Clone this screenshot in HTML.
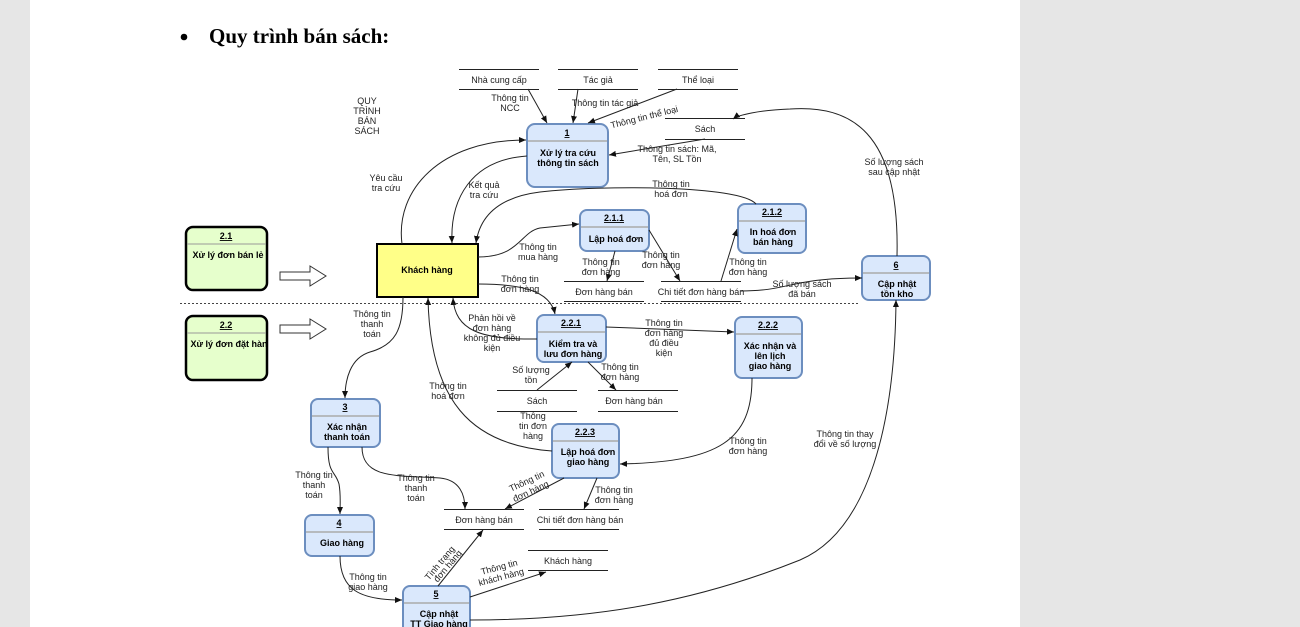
<!DOCTYPE html>
<html><head><meta charset="utf-8"><style>
html,body{margin:0;padding:0;background:#e6e6e6;width:1300px;height:627px;overflow:hidden}
svg{display:block}
text{font-family:"Liberation Sans","DejaVu Sans",sans-serif;font-size:9px;fill:#222}
.b{font-weight:bold;fill:#000}
.e{stroke:#222;stroke-width:1;fill:none;marker-end:url(#a)}
.n{stroke:#222;stroke-width:1;fill:none}
.p{fill:#dae8fc;stroke:#6c8ebf;stroke-width:2}
.s{stroke:#222;stroke-width:1}
</style></head><body>
<svg width="1300" height="627" viewBox="0 0 1300 627">
<defs><marker id="a" markerWidth="8" markerHeight="8" refX="7" refY="4" orient="auto" markerUnits="userSpaceOnUse"><path d="M0,1 L7,4 L0,7 Z" fill="#111"/></marker></defs>
<rect x="30" y="0" width="990" height="627" fill="#fff"/>
<circle cx="184" cy="37" r="3.3" fill="#000"/>
<text x="209" y="43" style="font-family:'Liberation Serif',serif;font-size:21px;font-weight:bold;fill:#000">Quy trình bán sách:</text>

<g text-anchor="middle">
<text x="367" y="104">QUY</text><text x="367" y="114">TRÌNH</text><text x="367" y="124">BÁN</text><text x="367" y="134">SÁCH</text>
</g>

<!-- data stores -->
<g>
<line class="s" x1="459" y1="69.5" x2="539" y2="69.5"/><line class="s" x1="459" y1="89.5" x2="539" y2="89.5"/>
<line class="s" x1="558" y1="69.5" x2="638" y2="69.5"/><line class="s" x1="558" y1="89.5" x2="638" y2="89.5"/>
<line class="s" x1="658" y1="69.5" x2="738" y2="69.5"/><line class="s" x1="658" y1="89.5" x2="738" y2="89.5"/>
<line class="s" x1="665" y1="118.5" x2="745" y2="118.5"/><line class="s" x1="665" y1="139.5" x2="745" y2="139.5"/>
<line class="s" x1="564" y1="281.5" x2="644" y2="281.5"/><line class="s" x1="564" y1="301.5" x2="644" y2="301.5"/>
<line class="s" x1="661" y1="281.5" x2="741" y2="281.5"/><line class="s" x1="661" y1="301.5" x2="741" y2="301.5"/>
<line class="s" x1="497" y1="390.5" x2="577" y2="390.5"/><line class="s" x1="497" y1="411.5" x2="577" y2="411.5"/>
<line class="s" x1="598" y1="390.5" x2="678" y2="390.5"/><line class="s" x1="598" y1="411.5" x2="678" y2="411.5"/>
<line class="s" x1="444" y1="509.5" x2="524" y2="509.5"/><line class="s" x1="444" y1="529.5" x2="524" y2="529.5"/>
<line class="s" x1="539" y1="509.5" x2="619" y2="509.5"/><line class="s" x1="539" y1="529.5" x2="619" y2="529.5"/>
<line class="s" x1="528" y1="550.5" x2="608" y2="550.5"/><line class="s" x1="528" y1="570.5" x2="608" y2="570.5"/>
</g>
<g text-anchor="middle">
<text x="499" y="83">Nhà cung cấp</text><text x="598" y="83">Tác giả</text><text x="698" y="83">Thể loại</text>
<text x="705" y="132">Sách</text>
<text x="604" y="295">Đơn hàng bán</text><text x="701" y="295">Chi tiết đơn hàng bán</text>
<text x="537" y="404">Sách</text><text x="634" y="404">Đơn hàng bán</text>
<text x="484" y="523">Đơn hàng bán</text><text x="580" y="523">Chi tiết đơn hàng bán</text>
<text x="568" y="564">Khách hàng</text>
</g>

<!-- dotted divider -->
<line x1="180" y1="303.5" x2="860" y2="303.5" stroke="#444" stroke-width="1" stroke-dasharray="2,2"/>

<!-- green boxes -->
<rect x="186" y="227" width="81" height="63" rx="7" fill="#e6ffcc" stroke="#000" stroke-width="2.5"/>
<line x1="187" y1="244" x2="266" y2="244" stroke="#999"/>
<rect x="186" y="316" width="81" height="64" rx="7" fill="#e6ffcc" stroke="#000" stroke-width="2.5"/>
<line x1="187" y1="333" x2="266" y2="333" stroke="#999"/>
<text x="226" y="239" text-anchor="middle" class="b" text-decoration="underline">2.1</text>
<text x="228" y="258" text-anchor="middle" class="b">Xử lý đơn bán lẻ</text>
<text x="226" y="328" text-anchor="middle" class="b" text-decoration="underline">2.2</text>
<text x="229" y="347" text-anchor="middle" class="b">Xử lý đơn đặt hàn</text>
<path d="M280,272 H310 V266 L326,276 L310,286 V280 H280 Z" fill="#fff" stroke="#333"/>
<path d="M280,325 H310 V319 L326,329 L310,339 V333 H280 Z" fill="#fff" stroke="#333"/>

<!-- Khach hang -->
<rect x="377" y="244" width="101" height="53" fill="#ffff88" stroke="#000" stroke-width="2"/>
<text x="427" y="273" text-anchor="middle" class="b">Khách hàng</text>

<!-- processes -->
<g>
<rect class="p" x="527" y="124" width="81" height="63" rx="8"/><line x1="528" y1="141" x2="607" y2="141" stroke="#aaa" stroke-width="1.5"/>
<rect class="p" x="580" y="210" width="69" height="41" rx="7"/><line x1="581" y1="227" x2="648" y2="227" stroke="#aaa" stroke-width="1.5"/>
<rect class="p" x="738" y="204" width="68" height="49" rx="7"/><line x1="739" y1="221" x2="805" y2="221" stroke="#aaa" stroke-width="1.5"/>
<rect class="p" x="862" y="256" width="68" height="44" rx="7"/><line x1="863" y1="273" x2="929" y2="273" stroke="#aaa" stroke-width="1.5"/>
<rect class="p" x="537" y="315" width="69" height="47" rx="7"/><line x1="538" y1="332" x2="605" y2="332" stroke="#aaa" stroke-width="1.5"/>
<rect class="p" x="735" y="317" width="67" height="61" rx="7"/><line x1="736" y1="334" x2="801" y2="334" stroke="#aaa" stroke-width="1.5"/>
<rect class="p" x="311" y="399" width="69" height="48" rx="7"/><line x1="312" y1="416" x2="379" y2="416" stroke="#aaa" stroke-width="1.5"/>
<rect class="p" x="552" y="424" width="67" height="54" rx="7"/><line x1="553" y1="441" x2="618" y2="441" stroke="#aaa" stroke-width="1.5"/>
<rect class="p" x="305" y="515" width="69" height="41" rx="7"/><line x1="306" y1="532" x2="373" y2="532" stroke="#aaa" stroke-width="1.5"/>
<rect class="p" x="403" y="586" width="67" height="50" rx="7"/><line x1="404" y1="603" x2="469" y2="603" stroke="#aaa" stroke-width="1.5"/>
</g>
<g text-anchor="middle" class="b">
<text class="b" x="567" y="136" text-decoration="underline">1</text>
<text class="b" x="568" y="156">Xử lý tra cứu</text><text class="b" x="568" y="166">thông tin sách</text>
<text class="b" x="614" y="221" text-decoration="underline">2.1.1</text><text class="b" x="616" y="242">Lập hoá đơn</text>
<text class="b" x="772" y="215" text-decoration="underline">2.1.2</text><text class="b" x="773" y="235">In hoá đơn</text><text class="b" x="773" y="245">bán hàng</text>
<text class="b" x="896" y="268" text-decoration="underline">6</text><text class="b" x="897" y="287">Cập nhật</text><text class="b" x="897" y="297">tồn kho</text>
<text class="b" x="571" y="326" text-decoration="underline">2.2.1</text><text class="b" x="573" y="347">Kiểm tra và</text><text class="b" x="573" y="357">lưu đơn hàng</text>
<text class="b" x="768" y="328" text-decoration="underline">2.2.2</text><text class="b" x="770" y="349">Xác nhận và</text><text class="b" x="770" y="359">lên lịch</text><text class="b" x="770" y="369">giao hàng</text>
<text class="b" x="345" y="410" text-decoration="underline">3</text><text class="b" x="347" y="430">Xác nhận</text><text class="b" x="347" y="440">thanh toán</text>
<text class="b" x="585" y="435" text-decoration="underline">2.2.3</text><text class="b" x="588" y="455">Lập hoá đơn</text><text class="b" x="588" y="465">giao hàng</text>
<text class="b" x="339" y="526" text-decoration="underline">4</text><text class="b" x="342" y="546">Giao hàng</text>
<text class="b" x="436" y="597" text-decoration="underline">5</text><text class="b" x="439" y="617">Cập nhật</text><text class="b" x="439" y="627">TT Giao hàng</text>
</g>

<!-- edges -->
<path class="e" d="M528,89 L547,123"/>
<path class="e" d="M578,89 L573,123"/>
<path class="e" d="M677,89 L588,123"/>
<path class="e" d="M705,139 L609,155"/>
<path class="e" d="M402,244 C395,190 440,140 526,140"/>
<path class="e" d="M527,156 C470,160 450,200 452,243"/>
<path class="e" d="M756,204 C740,185 600,185 540,192 C500,197 480,215 476,243"/>
<path class="e" d="M478,257 C520,257 520,232 540,228 L579,224"/>
<path class="e" d="M615,251 L607,281"/>
<path class="e" d="M649,230 L680,281"/>
<path class="e" d="M721,281 L737,229"/>
<path class="e" d="M741,291 C790,291 790,278 862,278"/>
<path class="e" d="M897,256 C900,130 850,105 790,109 C760,110 738,115 733,119"/>
<path class="e" d="M478,284 C520,284 550,290 555,314"/>
<path class="e" d="M537,339 C480,340 455,330 453,298"/>
<path class="e" d="M403,297 C403,330 395,345 370,352 C350,358 345,380 345,398"/>
<path class="e" d="M606,327 L734,332"/>
<path class="e" d="M537,390 L572,362"/>
<path class="e" d="M588,362 L616,390"/>
<path class="e" d="M552,451 C470,445 430,400 428,298"/>
<path class="e" d="M752,378 C752,440 720,462 620,464"/>
<path class="e" d="M564,478 L505,509"/>
<path class="e" d="M597,478 L584,509"/>
<path class="e" d="M362,447 C362,480 400,475 440,478 C460,480 465,495 465,509"/>
<path class="e" d="M328,447 C328,475 335,470 339,484 C341,495 340,505 340,514"/>
<path class="e" d="M340,556 C340,590 360,600 402,600"/>
<path class="e" d="M438,586 L483,530"/>
<path class="e" d="M470,597 L546,572"/>
<path class="e" d="M470,620 C600,620 700,600 800,560 C870,530 895,420 896,300"/>

<!-- edge labels -->
<g text-anchor="middle">
<text x="510" y="101">Thông tin</text><text x="510" y="111">NCC</text>
<text x="605" y="106">Thông tin tác giả</text>
<text x="645" y="120" transform="rotate(-14 645 120)">Thông tin thể loại</text>
<text x="677" y="152">Thông tin sách: Mã,</text><text x="677" y="162">Tên, SL Tồn</text>
<text x="386" y="181">Yêu cầu</text><text x="386" y="191">tra cứu</text>
<text x="484" y="188">Kết quả</text><text x="484" y="198">tra cứu</text>
<text x="671" y="187">Thông tin</text><text x="671" y="197">hoá đơn</text>
<text x="538" y="250">Thông tin</text><text x="538" y="260">mua hàng</text>
<text x="601" y="265">Thông tin</text><text x="601" y="275">đơn hàng</text>
<text x="661" y="258">Thông tin</text><text x="661" y="268">đơn hàng</text>
<text x="748" y="265">Thông tin</text><text x="748" y="275">đơn hàng</text>
<text x="802" y="287">Số lượng sách</text><text x="802" y="297">đã bán</text>
<text x="894" y="165">Số lượng sách</text><text x="894" y="175">sau cập nhật</text>
<text x="520" y="282">Thông tin</text><text x="520" y="292">đơn hàng</text>
<text x="372" y="317">Thông tin</text><text x="372" y="327">thanh</text><text x="372" y="337">toán</text>
<text x="492" y="321">Phản hồi về</text><text x="492" y="331">đơn hàng</text><text x="492" y="341">không đủ điều</text><text x="492" y="351">kiện</text>
<text x="664" y="326">Thông tin</text><text x="664" y="336">đơn hàng</text><text x="664" y="346">đủ điều</text><text x="664" y="356">kiện</text>
<text x="531" y="373">Số lượng</text><text x="531" y="383">tồn</text>
<text x="620" y="370">Thông tin</text><text x="620" y="380">đơn hàng</text>
<text x="448" y="389">Thông tin</text><text x="448" y="399">hoá đơn</text>
<text x="533" y="419">Thông</text><text x="533" y="429">tin đơn</text><text x="533" y="439">hàng</text>
<text x="748" y="444">Thông tin</text><text x="748" y="454">đơn hàng</text>
<text x="845" y="437">Thông tin thay</text><text x="845" y="447">đổi về số lượng</text>
<text x="314" y="478">Thông tin</text><text x="314" y="488">thanh</text><text x="314" y="498">toán</text>
<text x="416" y="481">Thông tin</text><text x="416" y="491">thanh</text><text x="416" y="501">toán</text>
<text x="528" y="484" transform="rotate(-25 528 484)">Thông tin</text><text x="532" y="494" transform="rotate(-25 532 494)">đơn hàng</text>
<text x="614" y="493">Thông tin</text><text x="614" y="503">đơn hàng</text>
<text x="368" y="580">Thông tin</text><text x="368" y="590">giao hàng</text>
<text x="442" y="565" transform="rotate(-50 442 565)">Tình trạng</text><text x="450" y="568" transform="rotate(-50 450 568)">đơn hàng</text>
<text x="500" y="570" transform="rotate(-15 500 570)">Thông tin</text><text x="502" y="580" transform="rotate(-15 502 580)">khách hàng</text>
</g>
</svg>
</body></html>
